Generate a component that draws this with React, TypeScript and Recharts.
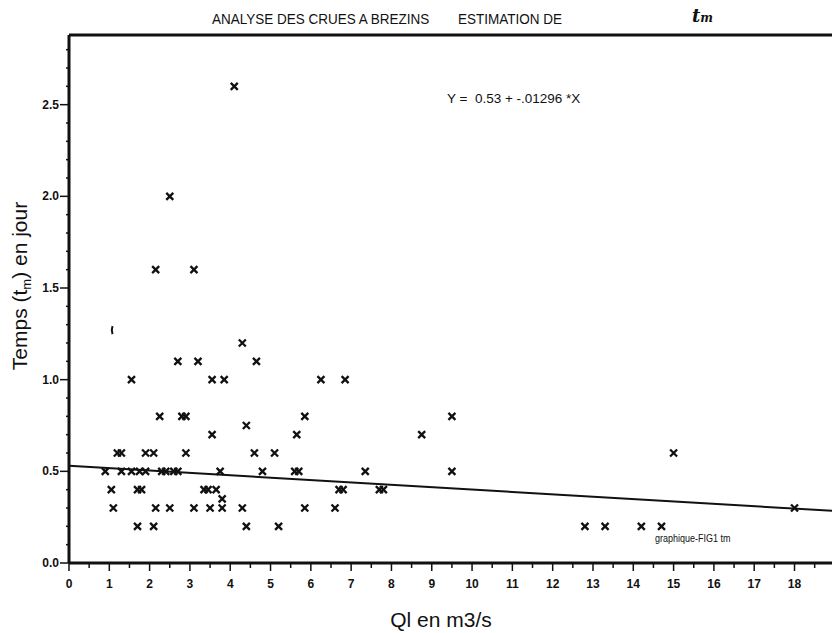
import React from "react";
import { ScatterChart, Scatter, XAxis, YAxis, ReferenceLine } from "recharts";

// axis extents (right edge of the scan cuts the x axis)
const X_MAX = 18.93;
const Y_MAX = 2.88;

// regression printed on the figure: Y = 0.53 + -.01296 * X
const INTERCEPT = 0.53;
const SLOPE = -0.01296;

// Ql (m3/s) and matching time tm (days), read point by point
const qlValues = [
  4.1,
  2.5,
  2.15, 3.1,
  4.3,
  2.7, 3.2, 4.65,
  1.55, 3.55, 3.85, 6.25, 6.85,
  2.25, 2.8, 2.9, 5.85, 9.5,
  4.4,
  3.55, 5.65, 8.75,
  1.2, 1.3, 1.9, 2.1, 2.9, 4.6, 5.1, 15.0,
  0.9, 1.3, 1.55, 1.75, 1.9, 2.3, 2.4, 2.6, 2.7, 3.75, 4.8, 5.6, 5.7, 7.35, 9.5,
  1.05, 1.7, 1.8, 3.35, 3.45, 3.65, 6.7, 6.8, 7.7, 7.8,
  3.8,
  1.1, 2.15, 2.5, 3.1, 3.5, 3.8, 4.3, 5.85, 6.6, 18.0,
  1.7, 2.1, 4.4, 5.2, 12.8, 13.3, 14.2, 14.7,
];
const tmValues = [
  2.6,
  2.0,
  1.6, 1.6,
  1.2,
  1.1, 1.1, 1.1,
  1.0, 1.0, 1.0, 1.0, 1.0,
  0.8, 0.8, 0.8, 0.8, 0.8,
  0.75,
  0.7, 0.7, 0.7,
  0.6, 0.6, 0.6, 0.6, 0.6, 0.6, 0.6, 0.6,
  0.5, 0.5, 0.5, 0.5, 0.5, 0.5, 0.5, 0.5, 0.5, 0.5, 0.5, 0.5, 0.5, 0.5, 0.5,
  0.4, 0.4, 0.4, 0.4, 0.4, 0.4, 0.4, 0.4, 0.4, 0.4,
  0.35,
  0.3, 0.3, 0.3, 0.3, 0.3, 0.3, 0.3, 0.3, 0.3, 0.3,
  0.2, 0.2, 0.2, 0.2, 0.2, 0.2, 0.2, 0.2,
];

// stray pen mark left of the cloud
const strayMark = [{ x: 1.08, y: 1.27 }];

const xTicks = [
  0, 0.5, 1, 1.5, 2, 2.5, 3, 3.5, 4, 4.5, 5, 5.5, 6, 6.5, 7, 7.5, 8, 8.5, 9,
  9.5, 10, 10.5, 11, 11.5, 12, 12.5, 13, 13.5, 14, 14.5, 15, 15.5, 16, 16.5,
  17, 17.5, 18, 18.5,
];
const yTicks = [
  0, 0.1, 0.2, 0.3, 0.4, 0.5, 0.6, 0.7, 0.8, 0.9, 1.0, 1.1, 1.2, 1.3, 1.4,
  1.5, 1.6, 1.7, 1.8, 1.9, 2.0, 2.1, 2.2, 2.3, 2.4, 2.5, 2.6, 2.7, 2.8,
];
const yLabelled = [0, 0.5, 1.0, 1.5, 2.0, 2.5];

const points = qlValues.map((q, i) => ({ x: q, y: tmValues[i] }));

const SANS = "'Liberation Sans', Arial, sans-serif";

const Cross = (props: any) => {
  const { cx, cy } = props;
  const r = 3.5;
  return (
    <path
      d={`M${cx - r},${cy - r}L${cx + r},${cy + r}M${cx - r},${cy + r}L${cx + r},${cy - r}`}
      stroke="#111"
      strokeWidth={2.3}
      fill="none"
    />
  );
};

const Stray = (props: any) => {
  const { cx, cy } = props;
  return (
    <path
      d={`M${cx},${cy - 4}Q${cx - 1.5},${cy} ${cx},${cy + 4}`}
      stroke="#111"
      strokeWidth={2}
      fill="none"
    />
  );
};

const XTick = (props: any) => {
  const { x, y, payload } = props;
  const v = payload.value;
  const major = Number.isInteger(v);
  return (
    <g>
      <line x1={x} x2={x} y1={y} y2={y + (major ? 8 : 5)} stroke="#111" strokeWidth={1.5} />
      {major && (
        <text
          x={x}
          y={y + 25}
          textAnchor="middle"
          fontSize={12}
          fontWeight="bold"
          fontFamily={SANS}
          fill="#111"
        >
          {v}
        </text>
      )}
    </g>
  );
};

const YTick = (props: any) => {
  const { x, y, payload } = props;
  const v = payload.value;
  const major = yLabelled.some((m) => Math.abs(m - v) < 1e-6);
  return (
    <g>
      <line x1={x - (major ? 9 : 3)} x2={x} y1={y} y2={y} stroke="#111" strokeWidth={1.5} />
      {major && (
        <text
          x={x - 10}
          y={y + 4}
          textAnchor="end"
          fontSize={12}
          fontWeight="bold"
          fontFamily={SANS}
          fill="#111"
        >
          {v.toFixed(1)}
        </text>
      )}
    </g>
  );
};

const condensed: React.CSSProperties = {
  position: "absolute",
  top: 10,
  fontFamily: SANS,
  fontSize: 15,
  whiteSpace: "pre",
  transform: "scaleX(0.9)",
  transformOrigin: "left top",
};

export default function App() {
  const yEnd = INTERCEPT + SLOPE * X_MAX;
  return (
    <div
      style={{
        position: "absolute",
        left: 0,
        top: 0,
        width: 832,
        height: 633,
        background: "#fff",
        color: "#111",
        fontFamily: SANS,
      }}
    >
      <ScatterChart
        width={832}
        height={633}
        margin={{ top: 35, right: 0, bottom: 0, left: 0 }}
      >
        <XAxis
          type="number"
          dataKey="x"
          domain={[0, X_MAX]}
          allowDataOverflow
          ticks={xTicks}
          interval={0}
          tickSize={0}
          tickMargin={0}
          tick={<XTick />}
          axisLine={{ stroke: "#111", strokeWidth: 3 }}
          height={70}
          label={{
            content: () => (
              <text
                x={441}
                y={627}
                textAnchor="middle"
                fontSize={21}
                fontFamily={SANS}
                fill="#111"
              >
                Ql en m3/s
              </text>
            ),
          }}
        />
        <YAxis
          type="number"
          dataKey="y"
          domain={[0, Y_MAX]}
          allowDataOverflow
          ticks={yTicks}
          interval={0}
          tickSize={0}
          tickMargin={0}
          tick={<YTick />}
          axisLine={{ stroke: "#111", strokeWidth: 3 }}
          width={69}
          label={{
            content: () => (
              <text
                transform="translate(27,286) rotate(-90)"
                textAnchor="middle"
                fontSize={21}
                fontFamily={SANS}
                fill="#111"
              >
                Temps (t
                <tspan fontSize={13} dy={4}>m</tspan>
                <tspan dy={-4}>) en jour</tspan>
              </text>
            ),
          }}
        />
        <ReferenceLine y={Y_MAX} stroke="#111" strokeWidth={3} ifOverflow="visible" />
        <ReferenceLine
          segment={[
            { x: 0, y: INTERCEPT },
            { x: X_MAX, y: yEnd },
          ]}
          stroke="#111"
          strokeWidth={2}
          ifOverflow="visible"
        />
        <Scatter data={points} shape={<Cross />} isAnimationActive={false} />
        <Scatter data={strayMark} shape={<Stray />} isAnimationActive={false} />
      </ScatterChart>

      <div style={{ ...condensed, left: 212 }}>ANALYSE DES CRUES A BREZINS</div>
      <div style={{ ...condensed, left: 458 }}>ESTIMATION DE</div>
      <div
        style={{
          position: "absolute",
          left: 692,
          top: 5,
          fontFamily: "'DejaVu Serif', serif",
          fontStyle: "italic",
          fontWeight: "bold",
          fontSize: 18,
        }}
      >
        t<span style={{ fontSize: 12 }}>m</span>
      </div>
      <div
        style={{
          position: "absolute",
          left: 447,
          top: 91,
          fontFamily: SANS,
          fontSize: 13.5,
          whiteSpace: "pre",
        }}
      >
        {"Y =  0.53 + -.01296 *X"}
      </div>
      <div
        style={{
          position: "absolute",
          left: 655,
          top: 533,
          fontFamily: SANS,
          fontSize: 10,
          transform: "scaleX(0.9)",
          transformOrigin: "left top",
        }}
      >
        graphique-FIG1 tm
      </div>
    </div>
  );
}
